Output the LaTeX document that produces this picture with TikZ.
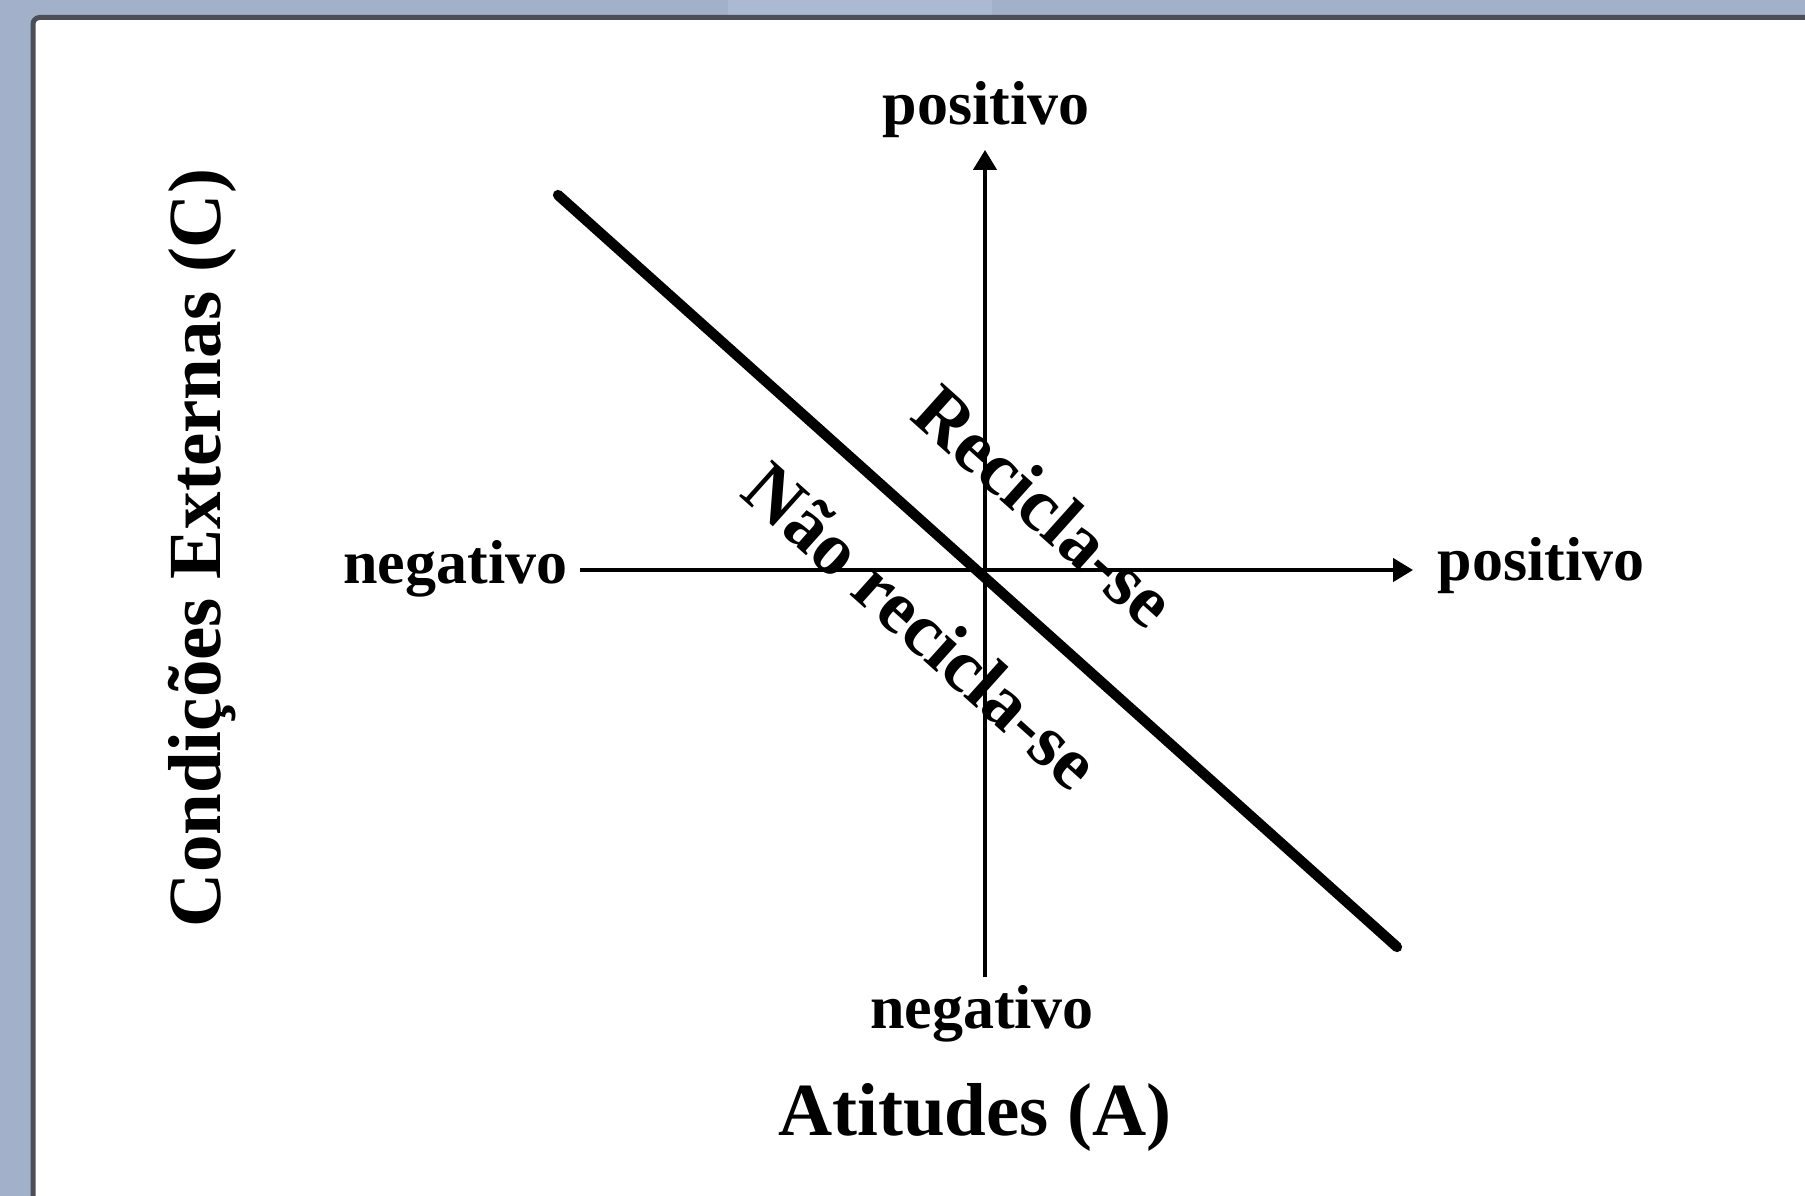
\documentclass[tikz,border=0pt]{standalone}
\usepackage{fontspec}
\setmainfont{Liberation Serif}
\usepackage{xcolor}
\usepackage{tikz}
\usetikzlibrary{arrows.meta, positioning}
\definecolor{framebg}{HTML}{A3B0C9}
\definecolor{tabbg}{HTML}{ABB9D2}
\definecolor{frameline}{HTML}{4D4F55}

\begin{document}
\begin{tikzpicture}[
    x=0.3pt, y=-0.3pt,
    axis/.style={line width=1.05pt, -{Triangle[width=7pt, length=6pt]}},
    divide/.style={line width=3.1pt, line cap=round},
    tick/.style={font=\fontsize{18.6}{20}\selectfont\bfseries, inner sep=0pt},
    title/.style={font=\fontsize{22.5}{24}\selectfont\bfseries, inner sep=0pt},
    zone/.style={font=\fontsize{22.5}{24}\selectfont\bfseries, inner sep=0pt, rotate=-41.9}
]
\useasboundingbox (0,0) rectangle (1805,1196);
\fill[framebg] (0,0) rectangle (1805,1196);
\fill[tabbg] (728,0) rectangle (992,16);
\fill[white] (33,17.5) rectangle (1805,1196);
\draw[frameline, line width=1.5pt, rounded corners=2pt] (33,1196) -- (33,17.5) -- (1805,17.5);

\coordinate (xa) at (580,570);
\coordinate (xb) at (1413,570);
\coordinate (ya) at (985,977);
\coordinate (yb) at (985,150);
\coordinate (d1) at (558,195);
\coordinate (d2) at (1397,947);

\node[tick, anchor=base] (ypos) at (986,125) {positivo};
\node[tick, anchor=base] (yneg) at (982,1028) {negativo};
\node[tick, anchor=base west] (xpos) at (1437,580) {positivo};
\node[tick, anchor=base east] (xneg) at (568,583) {negativo};
\node[title, anchor=base] (xtitle) at (975,1135) {Atitudes (A)};
\node[title, rotate=90, anchor=base] (ytitle) at (220,548) {Condições Externas (C)};

\draw[axis] (xa) -- (xb);
\draw[axis] (ya) -- (yb);
\draw[divide] (d1) -- (d2);

\node[zone] (yes) at (1045,506) {Recicla-se};
\node[zone] (no) at (922,625) {Não recicla-se};
\end{tikzpicture}
\end{document}
